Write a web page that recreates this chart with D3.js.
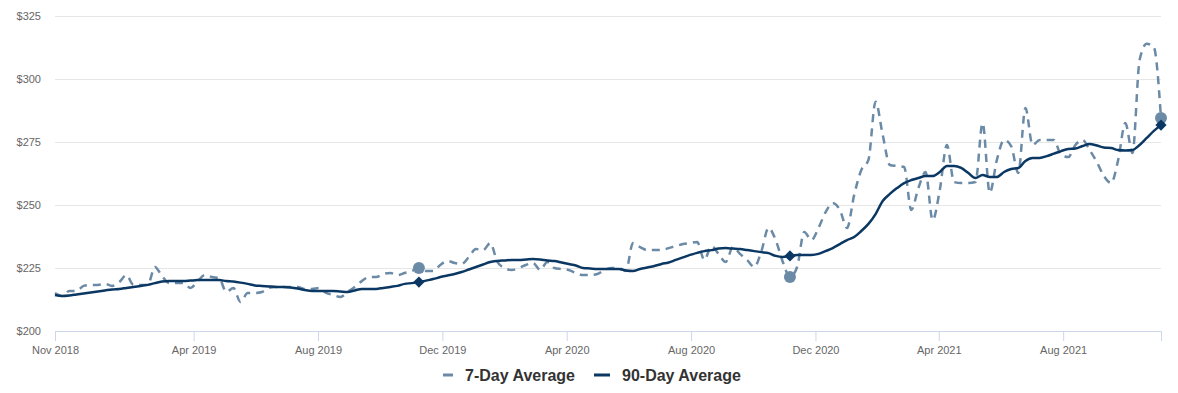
<!DOCTYPE html>
<html>
<head>
<meta charset="utf-8">
<script src="https://cdn.jsdelivr.net/npm/d3@7"></script>
<style>
  body { margin: 0; background: #fff; }
  svg { display: block; font-family: "Liberation Sans", Arial, sans-serif; }
</style>
</head>
<body>
<div id="chart"></div>
<script>
// weekly observations, first week mid Nov 2018
var startDate = new Date(2018, 10, 16);
var weekCount = 156;

var sevenDay = [
  215.1, 213.9, 215.9, 215.9, 217.9, 218.3, 218.3, 218.7, 217.9, 219.4,
  222.2, 218.3, 218.3, 218.3, 225.4, 221.8, 219.0, 219.0, 219.0, 217.1,
  219.8, 222.2, 221.4, 221.0, 215.5, 217.1, 211.5, 215.1, 215.1, 215.5,
  217.1, 217.5, 217.5, 217.5, 217.5, 216.7, 216.7, 217.1, 215.1, 214.3,
  213.5, 215.5, 217.5, 219.8, 221.4, 221.4, 222.6, 223.0, 222.2, 223.0,
  223.8, 225.0, 223.8, 223.8, 226.2, 227.8, 227.0, 226.6, 229.4, 232.5,
  232.1, 234.9, 227.4, 225.0, 224.2, 225.0, 226.2, 227.0, 224.2, 227.4,
  225.0, 224.6, 224.2, 223.0, 222.2, 222.2, 222.6, 224.2, 225.0, 225.0,
  223.8, 234.9, 233.3, 232.1, 232.1, 232.1, 232.9, 233.7, 234.5, 234.9,
  235.3, 228.2, 233.7, 230.6, 227.4, 233.3, 230.6, 228.2, 225.4, 231.7,
  240.9, 236.1, 227.4, 221.4, 225.4, 239.3, 236.1, 240.9, 247.2, 250.8,
  248.0, 240.9, 254.0, 263.9, 267.9, 291.0, 277.8, 265.9, 265.5, 265.1,
  248.0, 256.7, 263.1, 244.0, 256.0, 273.8, 259.1, 258.7, 258.7, 259.1,
  282.5, 254.8, 267.9, 275.8, 273.4, 262.7, 288.5, 273.8, 275.8, 275.8,
  275.8, 269.8, 269.0, 273.8, 275.8, 271.8, 267.1, 261.5, 258.7, 267.9,
  282.5, 270.6, 307.5, 314.0, 312.5, 284.5
];

var ninetyDay = [
  214.3, 213.9, 214.1, 214.5, 214.9, 215.3, 215.7, 216.1, 216.5, 216.7,
  217.1, 217.5, 217.9, 218.3, 219.0, 219.6, 219.8, 219.8, 219.8, 220.0,
  220.2, 220.2, 220.2, 220.2, 219.8, 219.6, 219.2, 218.7, 218.1, 217.9,
  217.7, 217.5, 217.5, 217.3, 216.9, 216.3, 215.9, 215.9, 215.9, 215.9,
  215.7, 215.5, 216.1, 216.7, 216.7, 216.7, 217.1, 217.5, 217.9, 218.7,
  219.0, 219.4, 220.0, 220.6, 221.4, 222.0, 222.6, 223.4, 224.4, 225.4,
  226.4, 227.4, 227.8, 228.0, 228.2, 228.2, 228.4, 228.6, 228.4, 228.0,
  227.8, 227.2, 226.6, 226.0, 225.0, 224.8, 224.6, 224.6, 224.6, 224.6,
  224.0, 223.8, 224.6, 225.2, 225.8, 226.6, 227.2, 228.2, 229.2, 230.2,
  231.0, 231.7, 232.1, 232.7, 232.9, 232.7, 232.5, 232.1, 231.7, 231.3,
  230.9, 229.8, 229.4, 229.8, 230.2, 230.2, 230.2, 230.6, 231.7, 232.9,
  234.5, 236.1, 237.3, 239.7, 242.5, 246.4, 251.6, 254.4, 256.7, 258.7,
  259.9, 260.7, 261.5, 261.5, 263.1, 265.5, 265.5, 264.7, 262.7, 260.7,
  261.9, 261.1, 261.1, 263.1, 264.3, 264.7, 267.5, 268.7, 268.7, 269.4,
  270.4, 271.4, 272.2, 272.4, 273.4, 274.2, 273.6, 272.8, 272.6, 271.8,
  271.6, 271.8, 273.8, 276.6, 279.4, 281.7
];

var yTicks = [200, 225, 250, 275, 300, 325];
var xTickDates = ["2019-04-01", "2019-08-01", "2019-12-01", "2020-04-01",
                  "2020-08-01", "2020-12-01", "2021-04-01", "2021-08-01"];
var markerIdx = [51, 103, 155]; // same week 2 years ago, 1 year ago, latest

var seriesNames = ["7-Day Average", "90-Day Average"];
var colorSeven = "#6b8aa6", colorNinety = "#0b3763";

var W = 1178, H = 393;
var margin = {top: 16, right: 17, bottom: 62, left: 55};
var width = W - margin.left - margin.right,
    height = H - margin.top - margin.bottom;

var dates = d3.range(weekCount).map(function(i) { return d3.timeDay.offset(startDate, i * 7); });

var x = d3.scaleTime()
  .domain([dates[0], dates[dates.length - 1]])
  .range([0, width]);

var y = d3.scaleLinear()
  .domain([200, 325])
  .range([height, 0]);

var svg = d3.select("#chart").append("svg")
  .attr("width", W)
  .attr("height", H)
  .append("g")
  .attr("transform", "translate(" + margin.left + "," + margin.top + ")");

// grid + y labels
var yAxis = svg.append("g")
  .call(d3.axisLeft(y).tickValues(yTicks).tickSize(-width).tickPadding(14)
    .tickFormat(function(d) { return "$" + d; }));
yAxis.select(".domain").remove();
yAxis.selectAll(".tick line").attr("stroke", "#e6e6e6");
yAxis.selectAll(".tick text")
  .attr("fill", "#666")
  .attr("font-size", "11px");

// x axis
var parse = d3.timeParse("%Y-%m-%d");
var xTicks = [dates[0]].concat(xTickDates.map(parse));
var xAxis = svg.append("g")
  .attr("transform", "translate(0," + height + ")")
  .call(d3.axisBottom(x).tickValues(xTicks).tickSize(10).tickPadding(5)
    .tickFormat(d3.timeFormat("%b %Y")));
xAxis.select(".domain").attr("stroke", "#ccd6eb");
xAxis.selectAll(".tick line").attr("stroke", "#ccd6eb");
xAxis.selectAll(".tick text")
  .attr("fill", "#666")
  .attr("font-size", "11px");

var line = function(vals) {
  return d3.line()
    .x(function(d, i) { return x(dates[i]); })
    .y(function(d) { return y(d); })
    .curve(d3.curveMonotoneX)(vals);
};

svg.append("path")
  .attr("d", line(sevenDay))
  .attr("fill", "none")
  .attr("stroke", colorSeven)
  .attr("stroke-width", 2.5)
  .attr("stroke-dasharray", "8,6");

svg.append("path")
  .attr("d", line(ninetyDay))
  .attr("fill", "none")
  .attr("stroke", colorNinety)
  .attr("stroke-width", 2.5);

svg.selectAll(".pt7")
  .data(markerIdx)
  .enter().append("circle")
  .attr("class", "pt7")
  .attr("cx", function(i) { return x(dates[i]); })
  .attr("cy", function(i) { return y(sevenDay[i]); })
  .attr("r", 6)
  .attr("fill", colorSeven);

svg.selectAll(".pt90")
  .data(markerIdx)
  .enter().append("path")
  .attr("class", "pt90")
  .attr("d", d3.symbol().type(d3.symbolDiamond2).size(80))
  .attr("transform", function(i) {
    return "translate(" + x(dates[i]) + "," + y(ninetyDay[i]) + ")";
  })
  .attr("fill", colorNinety);

// legend
var legend = d3.select("svg").append("g")
  .attr("transform", "translate(0,381)");
var items = [
  {name: seriesNames[0], x: 443, len: 10, color: colorSeven},
  {name: seriesNames[1], x: 594, len: 16, color: colorNinety}
];
items.forEach(function(it) {
  legend.append("line")
    .attr("x1", it.x).attr("x2", it.x + it.len)
    .attr("y1", -6).attr("y2", -6)
    .attr("stroke", it.color)
    .attr("stroke-width", 3);
  legend.append("text")
    .attr("x", it.x + it.len + 12)
    .attr("y", 0)
    .attr("font-size", "16px")
    .attr("font-weight", "bold")
    .attr("fill", "#333")
    .text(it.name);
});
</script>
</body>
</html>
